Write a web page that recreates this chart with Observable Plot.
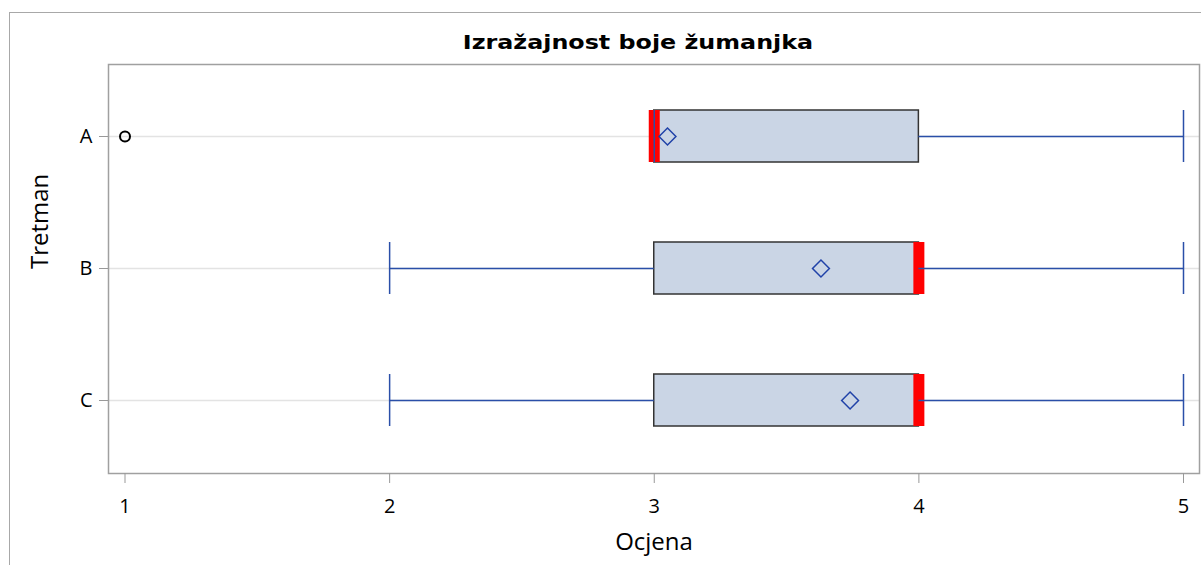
<!DOCTYPE html>
<html><head><meta charset="utf-8">
<script src="https://cdn.jsdelivr.net/npm/d3@7"></script>
<script src="https://cdn.jsdelivr.net/npm/@observablehq/plot@0.6"></script>
<style>
body{margin:0;background:#fff;overflow:hidden;font-family:"Open Sans",sans-serif;}
#wrap{position:relative;width:1201px;height:565px;overflow:hidden;}
#border{position:absolute;left:9px;top:12px;width:1400px;height:800px;border:1.5px solid #a8a8a8;box-sizing:border-box;}
#title{position:absolute;top:32px;left:638px;transform:translateX(-50%) scaleX(1.19);font-family:"DejaVu Sans",sans-serif;font-size:20px;line-height:20px;font-weight:700;white-space:nowrap;color:#000;}
#chart{position:absolute;top:60px;left:0;}
</style></head>
<body>
<div id="wrap">
<div id="border"></div>
<div id="title">Izražajnost boje žumanjka</div>
<div id="chart"></div>
</div>
<script>
const categories = ["A", "B", "C"];
const q1 = [3, 3, 3];
const median = [3, 4, 4];
const q3 = [4, 4, 4];
const whiskerLow = [3, 2, 2];
const whiskerHigh = [5, 5, 5];
const means = [3.05, 3.63, 3.74];
const outlierCats = ["A"];
const outlierValues = [1];
const xTicks = [1, 2, 3, 4, 5];
const xLabel = "Ocjena";
const yLabel = "Tretman";

const stats = categories.map((c, i) => ({cat: c, q1: q1[i], med: median[i], q3: q3[i], lo: whiskerLow[i], hi: whiskerHigh[i], mean: means[i]}));
const outliers = outlierCats.map((c, i) => ({cat: c, value: outlierValues[i]}));
const caps = stats.flatMap(d => [{cat: d.cat, x: d.lo}, {cat: d.cat, x: d.hi}]);

const blue = "#2a4fa8";
const chart = Plot.plot({
  width: 1201, height: 505,
  marginTop: 4, marginBottom: 92, marginLeft: 108, marginRight: 2,
  style: {fontFamily: '"Open Sans", sans-serif', fontSize: "20px", color: "#000", background: "transparent", overflow: "visible"},
  x: {domain: [1, 5], insetLeft: 16.5, insetRight: 16},
  y: {domain: categories, type: "band", paddingInner: 0.606, paddingOuter: 0.352},
  marks: [
    Plot.gridY({stroke: "#e3e3e3", strokeOpacity: 1, strokeWidth: 1.5}),
    Plot.barX(stats, {y: "cat", x1: "q1", x2: "q3", fill: "#cad5e5", stroke: "#333", strokeWidth: 1.5}),
    Plot.tickX(stats, {y: "cat", x: "med", stroke: "#ff0000", strokeWidth: 11}),
    Plot.ruleY(stats, {y: "cat", x1: "lo", x2: "q1", stroke: blue, strokeWidth: 1.5}),
    Plot.ruleY(stats, {y: "cat", x1: "q3", x2: "hi", stroke: blue, strokeWidth: 1.5}),
    Plot.tickX(caps, {y: "cat", x: "x", stroke: blue, strokeWidth: 1.5}),
    Plot.dot(stats, {y: "cat", x: "mean", symbol: "diamond2", r: 7.6, stroke: "#2042a8", strokeWidth: 1.5, fill: "none"}),
    Plot.dot(outliers, {y: "cat", x: "value", symbol: "circle", r: 5, stroke: "#000", strokeWidth: 2, fill: "none"}),
    Plot.frame({stroke: "#a0a0a0", strokeWidth: 1.5}),
    Plot.axisX({ticks: xTicks, tickFormat: d => String(d), tickSize: 10, tickPadding: 15, stroke: "#999", fill: "#000", label: null}),
    Plot.axisY({tickSize: 9, tickPadding: 7, stroke: "#999", fill: "#000", label: null}),
    Plot.text([xLabel], {frameAnchor: "bottom", dy: 76, fontSize: 24, fill: "#000"}),
    Plot.text([yLabel], {frameAnchor: "left", dx: -68, rotate: -90, fontSize: 24, fill: "#000"})
  ]
});
document.getElementById("chart").appendChild(chart);
</script>
</body></html>
